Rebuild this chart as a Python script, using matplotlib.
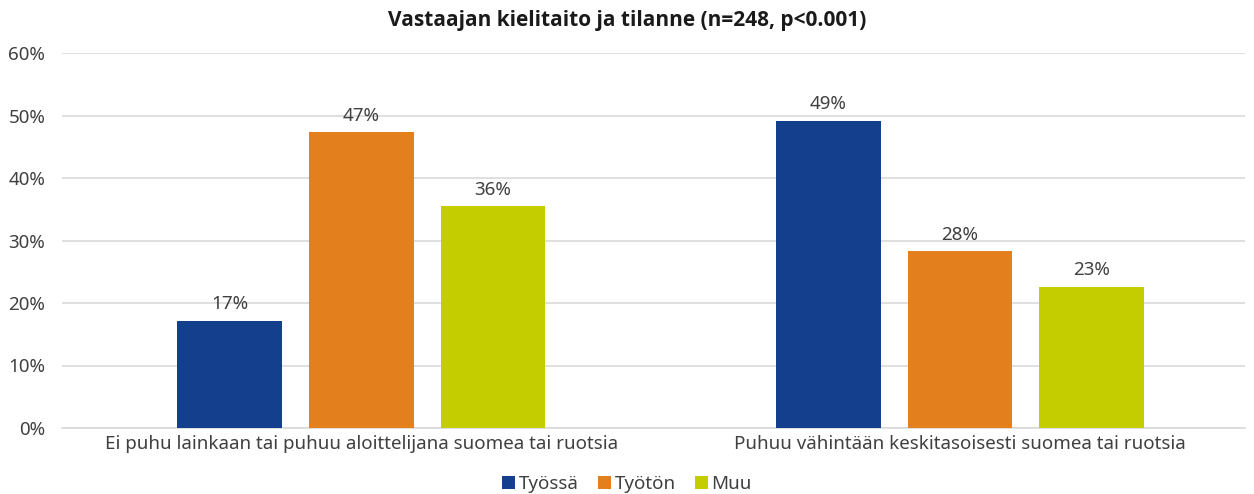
import numpy as np
from matplotlib import pyplot as plt

# data
categories = ["Ei puhu lainkaan tai puhuu aloittelijana suomea tai ruotsia",
              "Puhuu vähintään keskitasoisesti suomea tai ruotsia"]
series_names = ["Työssä", "Työtön", "Muu"]
tyossa = [17.2, 49.2]
tyoton = [47.3, 28.3]
muu = [35.5, 22.6]
colors = ["#143f8c", "#e47f1d", "#c3cd00"]

plt.rcParams['font.family'] = ['Noto Sans', 'DejaVu Sans']
txt = "#404040"

fig = plt.figure(figsize=(12.54, 4.94), dpi=100)
ax = fig.add_axes([62/1254, 1 - 428/494, 1183/1254, 375/494])

x = np.arange(len(categories))
offsets = [-0.22, 0, 0.22]
for vals, name, col, off in zip([tyossa, tyoton, muu], series_names, colors, offsets):
    bars = ax.bar(x + off, vals, width=0.175, color=col, label=name, zorder=3)
    for b, v in zip(bars, vals):
        ax.text(b.get_x() + b.get_width()/2, v + 1.2, f"{v:.0f}%",
                ha='center', va='bottom', fontsize=13.5, color=txt)

ax.set_ylim(0, 60)
ax.set_xlim(-0.5, 1.476)
ax.set_yticks(range(0, 61, 10))
ax.set_yticklabels([f"{t}%" for t in range(0, 61, 10)], fontsize=13.5, color=txt)
ax.set_xticks(x)
ax.set_xticklabels(categories, fontsize=13.5, color=txt)
ax.tick_params(length=0, pad=12)
ax.tick_params(axis='x', pad=5)
ax.yaxis.grid(True, color="#d9d9d9", linewidth=1.2, zorder=0)
for s in ['top', 'right', 'left']:
    ax.spines[s].set_visible(False)
ax.spines['bottom'].set_color("#d9d9d9")
ax.spines['bottom'].set_linewidth(1.2)

fig.suptitle("Vastaajan kielitaito ja tilanne (n=248, p<0.001)", y=0.98,
             fontsize=15, fontweight='bold', color="#1a1a1a",
             family=['Open Sans', 'DejaVu Sans'])
fig.legend(loc='center', bbox_to_anchor=(0.5, 1 - 484/494), ncol=3, frameon=False,
           fontsize=13.5, handlelength=0.7, handleheight=0.7, handletextpad=0.2,
           columnspacing=1.0, labelcolor=txt, borderpad=0.1)

plt.savefig("out.png", dpi=100)
